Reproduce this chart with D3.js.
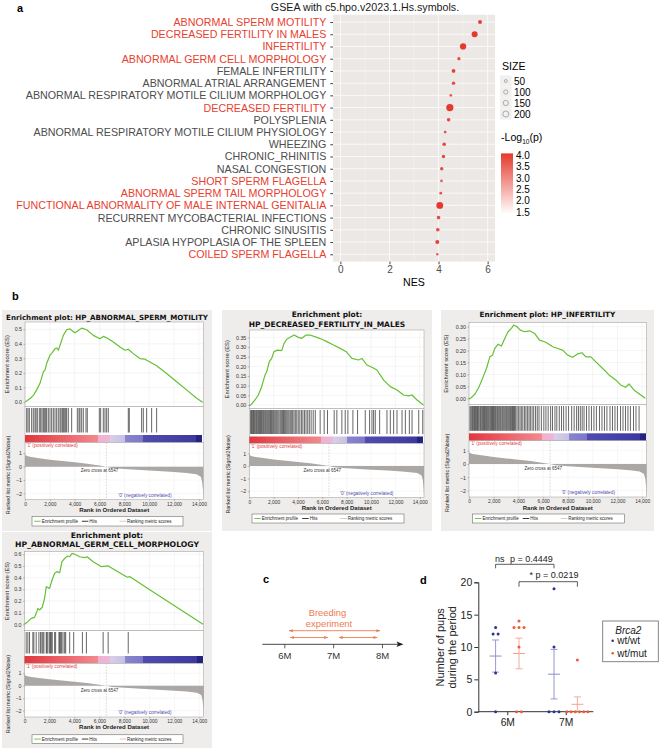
<!DOCTYPE html>
<html><head><meta charset="utf-8">
<script src="https://d3js.org/d3.v7.min.js"></script>
<style>html,body{margin:0;padding:0;background:#fff}svg{display:block}</style>
</head><body>
<svg id="fig" width="661" height="749" xmlns="http://www.w3.org/2000/svg"></svg>
<script>
// ================= DATA =================
// Panel a
const titleA = "GSEA with c5.hpo.v2023.1.Hs.symbols.";
const termNames = ["ABNORMAL SPERM MOTILITY","DECREASED FERTILITY IN MALES","INFERTILITY","ABNORMAL GERM CELL MORPHOLOGY","FEMALE INFERTILITY","ABNORMAL ATRIAL ARRANGEMENT","ABNORMAL RESPIRATORY MOTILE CILIUM MORPHOLOGY","DECREASED FERTILITY","POLYSPLENIA","ABNORMAL RESPIRATORY MOTILE CILIUM PHYSIOLOGY","WHEEZING","CHRONIC_RHINITIS","NASAL CONGESTION","SHORT SPERM FLAGELLA","ABNORMAL SPERM TAIL MORPHOLOGY","FUNCTIONAL ABNORMALITY OF MALE INTERNAL GENITALIA","RECURRENT MYCOBACTERIAL INFECTIONS","CHRONIC SINUSITIS","APLASIA HYPOPLASIA OF THE SPLEEN","COILED SPERM FLAGELLA"];
const termNES = [5.69,5.47,5.00,4.83,4.61,4.61,4.50,4.46,4.41,4.27,4.23,4.20,4.13,4.12,4.09,4.05,4.00,3.97,3.95,3.95];
const termSize = [90,200,215,57,80,65,38,290,72,44,72,64,64,38,44,257,72,72,89,32];
const termLogP = [3.9,4.0,4.0,3.8,3.9,3.8,3.6,4.0,3.8,3.7,3.8,3.8,3.8,3.6,3.7,4.0,3.8,3.8,3.9,3.6];
const termFertility = [1,1,1,1,0,0,0,1,0,0,0,0,0,1,1,1,0,0,0,1];
const nesTicks = [0,2,4,6];
const sizeLegend = [50,100,150,200];
const logpTicks = [4.0,3.5,3.0,2.5,2.0,1.5];

// Panel b (GSEA)
const N_GENES = 14350;
const zeroCross = 6547;
const rankTicks = [0,2000,4000,6000,8000,10000,12000,14000];
const metricRanks  = [0,30,300,1000,2000,3000,4000,5000,6000,6547,7000,8000,9000,10000,11000,12000,13000,13800,14150,14250,14320,14350];
const metricValues = [1.05,0.85,0.75,0.65,0.52,0.42,0.32,0.22,0.08,0,-0.1,-0.17,-0.23,-0.29,-0.34,-0.40,-0.47,-0.56,-0.75,-1.1,-1.7,-2.3];
const barStopRanks  = [0,2500,5900,5900,6840,6840,8050,8050,9520,9520,13800,13800,14280,14280,14350];
const barStopColors = ["#E0373F","#EA5A60","#F28A8E","#F0B0CF","#EDB8D6","#D8CFEB","#C8C0E3","#8985CF","#7C78C8","#4F4BAF","#3D399E","#26227F","#26227F","#FFFFFF","#FFFFFF"];

const setTitles = [["Enrichment plot: HP_ABNORMAL_SPERM_MOTILITY"],["Enrichment plot:","HP_DECREASED_FERTILITY_IN_MALES"],["Enrichment plot: HP_INFERTILITY"],["Enrichment plot:","HP_ABNORMAL_GERM_CELL_MORPHOLOGY"]];

const esSperm = [[0,0],[268,0.016],[536,0.034],[700,0.05],[939,0.084],[1207,0.129],[1475,0.208],[1610,0.22],[1743,0.265],[2011,0.322],[2200,0.34],[2414,0.367],[2550,0.372],[2682,0.356],[2950,0.424],[3084,0.458],[3352,0.497],[3620,0.503],[3800,0.49],[4023,0.476],[4291,0.492],[4559,0.508],[4962,0.497],[5498,0.458],[6035,0.435],[6303,0.451],[6571,0.442],[7107,0.412],[7644,0.378],[8046,0.356],[8314,0.363],[8716,0.333],[9253,0.299],[9655,0.295],[10058,0.276],[10594,0.249],[11399,0.197],[12203,0.140],[13008,0.084],[13812,0.027],[14300,0]];
const esMales = [[0,-0.005],[192,0.005],[467,0.026],[741,0.052],[1016,0.095],[1290,0.155],[1427,0.172],[1647,0.224],[1839,0.241],[2031,0.276],[2306,0.284],[2663,0.281],[2855,0.319],[3074,0.340],[3349,0.350],[3678,0.362],[4035,0.350],[4310,0.345],[4667,0.362],[4996,0.362],[5545,0.350],[5957,0.340],[6368,0.328],[6917,0.310],[7466,0.293],[7961,0.276],[8427,0.241],[8976,0.233],[9251,0.241],[9662,0.207],[10074,0.195],[10486,0.181],[11035,0.129],[11584,0.095],[12133,0.078],[12682,0.052],[13094,0.047],[13368,0.052],[13780,0.026],[14300,0]];
const esInfert = [[0,-0.004],[214,0.004],[482,0.018],[750,0.042],[937,0.063],[1151,0.091],[1419,0.126],[1687,0.174],[1901,0.181],[2088,0.209],[2356,0.227],[2623,0.219],[2891,0.251],[3159,0.279],[3427,0.293],[3614,0.307],[3882,0.300],[4149,0.286],[4497,0.279],[4899,0.283],[5300,0.272],[5702,0.244],[6104,0.237],[6371,0.230],[6773,0.216],[7174,0.209],[7576,0.202],[7977,0.181],[8379,0.172],[8781,0.186],[9129,0.191],[9450,0.174],[9851,0.174],[10253,0.153],[10788,0.126],[11324,0.098],[11859,0.077],[12261,0.056],[12662,0.046],[12930,0.060],[13331,0.035],[14250,0]];
const esGerm = [[0,0],[268,0.023],[536,0.051],[805,0.060],[939,0.094],[1073,0.137],[1207,0.123],[1421,0.146],[1609,0.223],[1743,0.322],[2011,0.308],[2226,0.386],[2414,0.437],[2601,0.451],[2816,0.442],[3004,0.536],[3218,0.565],[3487,0.585],[3621,0.579],[3808,0.608],[4023,0.600],[4425,0.579],[4828,0.571],[5015,0.579],[5498,0.536],[6169,0.494],[6705,0.500],[7241,0.465],[8233,0.403],[8448,0.408],[10058,0.294],[14300,0]];

const hitsSperm = [134,241,349,536,670,805,885,992,1153,1261,1368,1475,1556,1663,1743,1877,2011,2146,2280,2414,2548,2682,2816,2897,3004,3084,3165,3272,3352,3487,3755,4211,4345,4425,4559,4694,4908,5015,5981,6088,6303,6437,6571,6705,8314,8395,9387,9521,9789,10192,10594];
const hitsMales = [110,180,270,340,410,480,560,620,700,770,850,910,990,1060,1140,1210,1290,1360,1440,1520,1600,1680,1750,1830,1920,2000,2090,2180,2260,2350,2440,2540,2630,2720,2810,2900,2990,3080,3170,3260,3360,3450,3560,3670,3780,3900,4020,4150,4280,4400,4530,4660,4800,4930,5080,5250,5420,5819,6149,6423,6972,7192,7604,7878,8098,8510,8894,9525,9882,10074,10211,10349,10706,11309,11584,11858,12133,12545,12819,13148,13368,13917,14247];
const hitsInfert = [80,160,240,300,380,450,520,600,680,740,810,900,960,1040,1110,1180,1260,1320,1400,1470,1540,1610,1690,1760,1830,1900,1980,2050,2130,2200,2290,2360,2440,2520,2590,2680,2750,2830,2910,2990,3060,3140,3220,3300,3370,3450,3520,3600,3680,3770,3880,3990,4120,4230,4350,4480,4600,4720,4850,4960,5100,5230,5380,5520,5660,5850,6050,6220,6400,6600,6750,6950,7100,7300,7480,7650,7850,8050,8300,8500,8700,8850,9000,9150,9300,9500,9700,9900,10100,10300,10550,10750,10950,11150,11400,11600,11800,12000,12250,12450,12650,12850,13050,13300,13500,13750];
const hitsGerm = [134,268,402,670,750,938,1152,1286,1394,1474,1554,1742,1796,1876,2010,2090,2144,2224,2412,2492,2760,2814,2894,2975,3082,3216,3296,3618,3940,4636,4958,6298,6700,8308];

const esTicksSperm = [0,0.1,0.2,0.3,0.4,0.5];
const esTicksMales = [0,0.05,0.1,0.15,0.2,0.25,0.3,0.35];
const esTicksInfert = [0,0.05,0.1,0.15,0.2,0.25,0.3];
const esTicksGerm = [0,0.1,0.2,0.3,0.4,0.5,0.6];
const metricTicks = [1,0,-1,-2];

// Panel c
const timeTicks = [6,7,8];
const breedingStart = [6.1,6.12,7.12];
const breedingEnd = [7.96,6.89,7.9];
const breedingRow = [0,1,1];

// Panel d
const timePoints = ["6M","7M"];
const genotypes = ["wt/wt","wt/mut"];
const pups6Mwt = [13,12,12,6,0];
const pups6Mmut = [14,13,13,13,10,0,0];
const pups7Mwt = [19,10,0,0,0];
const pups7Mmut = [8,0,0,0,0,0,0];
const pupTicks = [0,5,10,15,20];

// ================= DRAW =================
const svg = d3.select("#fig");
const defs = svg.append("defs");
const SANS = "'Liberation Sans', Arial, Helvetica, sans-serif";
const DV = "'DejaVu Sans', sans-serif";
const NAR = "'Liberation Sans Narrow','Liberation Sans', Arial, sans-serif";

function txt(g, x, y, s, o = {}) {
  const t = g.append("text").attr("x", x).attr("y", y).text(s)
    .attr("font-family", o.ff || SANS).attr("font-size", o.fs || 10).attr("fill", o.fill || "#000");
  if (o.anchor) t.attr("text-anchor", o.anchor);
  if (o.fw) t.attr("font-weight", o.fw);
  if (o.fst) t.attr("font-style", o.fst);
  if (o.rot) t.attr("transform", `rotate(${o.rot},${x},${y})`);
  return t;
}

// ---------- Panel a ----------
const A = svg.append("g");
txt(A, 17, 12, "a", {fs: 11, fw: "bold"});
txt(A, 365, 10.5, titleA, {fs: 10.7, anchor: "middle", fill: "#1a1a1a"});
const xA = d3.scaleLinear().domain([-0.3, 6.3]).range([333, 495]);
const yA = d3.scalePoint().domain(termNames).range([14.7, 261.6]).padding(0.6);
const rA = d3.scaleSqrt().domain([0, 200]).range([0, 3.0]);
const cA = d3.scaleLinear().domain([1.5, 4.0]).range(["#FFFFFF", "#E5392D"]).clamp(true);
A.append("rect").attr("x", 333).attr("y", 14.7).attr("width", 162).attr("height", 246.9).attr("fill", "#EBE8E5");
[1, 3, 5].forEach(v => A.append("line").attr("x1", xA(v)).attr("x2", xA(v)).attr("y1", 14.7).attr("y2", 261.6).attr("stroke", "#F6F4F2").attr("stroke-width", 0.5));
nesTicks.forEach(v => A.append("line").attr("x1", xA(v)).attr("x2", xA(v)).attr("y1", 14.7).attr("y2", 261.6).attr("stroke", "#FAF9F8").attr("stroke-width", 1));
termNames.forEach(n => A.append("line").attr("x1", 333).attr("x2", 495).attr("y1", yA(n)).attr("y2", yA(n)).attr("stroke", "#FAF9F8").attr("stroke-width", 1));
A.selectAll("circle.dot").data(termNames.map((n, i) => ({n, i}))).join("circle").attr("class", "dot")
  .attr("cx", d => xA(termNES[d.i])).attr("cy", d => yA(d.n))
  .attr("r", d => rA(termSize[d.i])).attr("fill", d => cA(termLogP[d.i]));
const yAxisA = A.append("g").attr("transform", "translate(333,0)").call(d3.axisLeft(yA).tickSize(2.7).tickPadding(4));
yAxisA.select(".domain").remove();
yAxisA.selectAll(".tick line").attr("stroke", "#444");
yAxisA.selectAll(".tick text").attr("font-family", SANS).attr("font-size", 10.7)
  .attr("fill", (d, i) => termFertility[termNames.indexOf(d)] ? "#E8402F" : "#4D4D4D");
const xAxisA = A.append("g").attr("transform", "translate(0,261.6)").call(d3.axisBottom(xA).tickValues(nesTicks).tickFormat(d3.format("d")).tickSize(2.7).tickPadding(2));
xAxisA.select(".domain").remove();
xAxisA.selectAll(".tick line").attr("stroke", "#444");
xAxisA.selectAll(".tick text").attr("font-family", SANS).attr("font-size", 10).attr("fill", "#4D4D4D");
txt(A, 414, 286, "NES", {fs: 10.6, anchor: "middle"});
// size legend
txt(A, 502, 70, "SIZE", {fs: 10.6});
sizeLegend.forEach((s, i) => {
  const cy = 81 + i * 11;
  A.append("rect").attr("x", 500).attr("y", cy - 5.5).attr("width", 11.5).attr("height", 11).attr("fill", "#F1F0EF");
  A.append("circle").attr("cx", 505.8).attr("cy", cy).attr("r", rA(s)).attr("fill", "none").attr("stroke", "#9A9A9A").attr("stroke-width", 0.8);
  txt(A, 514, cy + 3.6, String(s), {fs: 10});
});
// colour legend
const lt = txt(A, 501, 141, "-Log", {fs: 10.6});
lt.append("tspan").attr("font-size", 6.5).attr("dy", 2.5).text("10");
lt.append("tspan").attr("dy", -2.5).text("(p)");
const yL = d3.scaleLinear().domain([1.5, 4.0]).range([212.3, 155]);
const cg = defs.append("linearGradient").attr("id", "lpgrad").attr("x1", 0).attr("x2", 0).attr("y1", 1).attr("y2", 0);
cg.append("stop").attr("offset", 0).attr("stop-color", cA(1.42));
cg.append("stop").attr("offset", 1).attr("stop-color", cA(4.05));
A.append("rect").attr("x", 501).attr("y", yL(4.07)).attr("width", 12).attr("height", yL(1.42) - yL(4.07)).attr("fill", "url(#lpgrad)");
logpTicks.forEach(v => txt(A, 516, yL(v) + 3.6, v.toFixed(1), {fs: 10}));

// ---------- Panel b ----------
const B = svg.append("g");
txt(B, 12, 300, "b", {fs: 11, fw: "bold"});

const gseaLayouts = [
  {bg: [2, 310, 212, 531], tY: [320], tFs: 7.1, x0: 25, x1: 203.3, esTop: 322, esBot: 406.5, esDom: [-0.03, 0.55], esFmt: ".1f", esTicks: esTicksSperm,
   barTop: 435, barBot: 442.5, rankBot: 499.5, rDom: [-2.45, 1.8], axY: 505, rlY: 511.5, lg: [32, 183, 516.5, 526]},
  {bg: [222, 310, 432, 531], tY: [316.5, 326.5], tFs: 7.5, x0: 249.3, x1: 424, esTop: 330, esBot: 408.5, esDom: [-0.018, 0.388], esFmt: ".2f", esTicks: esTicksMales,
   barTop: 436.5, barBot: 443.3, rankBot: 497.5, rDom: [-2.5, 1.8], axY: 502.5, rlY: 509.5, lg: [252, 404, 514, 523]},
  {bg: [441, 310, 654, 531], tY: [317], tFs: 7.3, x0: 469, x1: 646.5, esTop: 322.7, esBot: 404.5, esDom: [-0.026, 0.317], esFmt: ".2f", esTicks: esTicksInfert,
   barTop: 433.3, barBot: 440.7, rankBot: 497, rDom: [-2.48, 1.75], axY: 502.5, rlY: 509.5, lg: [472.6, 624.5, 514, 523]},
  {bg: [2, 532, 212, 748], tY: [538, 547.3], tFs: 7.7, x0: 24.5, x1: 203.7, esTop: 551.7, esBot: 630.5, esDom: [-0.053, 0.622], esFmt: ".1f", esTicks: esTicksGerm,
   barTop: 656, barBot: 663.3, rankBot: 717, rDom: [-2.51, 1.8], axY: 722.5, rlY: 729, lg: [32, 183, 734.8, 743.3]}
];
const gseaEs = [esSperm, esMales, esInfert, esGerm];
const gseaHits = [hitsSperm, hitsMales, hitsInfert, hitsGerm];

gseaLayouts.forEach((c, k) => {
  const g = B.append("g");
  g.append("rect").attr("x", c.bg[0]).attr("y", c.bg[1]).attr("width", c.bg[2] - c.bg[0]).attr("height", c.bg[3] - c.bg[1]).attr("fill", "#EFEDEB");
  const cx = (c.bg[0] + c.bg[2]) / 2;
  setTitles[k].forEach((t, i) => txt(g, cx, c.tY[i], t, {ff: DV, fs: c.tFs, fw: "bold", anchor: "middle", fill: "#111"}));
  const x = d3.scaleLinear().domain([0, N_GENES]).range([c.x0, c.x1]);
  const yE = d3.scaleLinear().domain(c.esDom).range([c.esBot, c.esTop]);
  const rankTop = c.barBot;
  const yR = d3.scaleLinear().domain(c.rDom).range([c.rankBot, rankTop]);
  // ES panel
  g.append("rect").attr("x", c.x0).attr("y", c.esTop).attr("width", c.x1 - c.x0).attr("height", c.esBot - c.esTop).attr("fill", "#fff");
  rankTicks.forEach(t => g.append("line").attr("x1", x(t)).attr("x2", x(t)).attr("y1", c.esTop).attr("y2", c.esBot).attr("stroke", "#E6E6E6").attr("stroke-width", 0.4));
  c.esTicks.forEach(t => g.append("line").attr("x1", c.x0).attr("x2", c.x1).attr("y1", yE(t)).attr("y2", yE(t)).attr("stroke", "#E6E6E6").attr("stroke-width", 0.4));
  g.append("path").datum(gseaEs[k]).attr("d", d3.line().x(d => x(d[0])).y(d => yE(d[1])))
    .attr("fill", "none").attr("stroke", "#63C132").attr("stroke-width", 1.2).attr("stroke-linejoin", "round");
  g.append("rect").attr("x", c.x0).attr("y", c.esTop).attr("width", c.x1 - c.x0).attr("height", c.esBot - c.esTop).attr("fill", "none").attr("stroke", "#9A9A9A").attr("stroke-width", 0.5);
  const ay = g.append("g").attr("transform", `translate(${c.x0},0)`).call(d3.axisLeft(yE).tickValues(c.esTicks).tickFormat(d3.format(c.esFmt)).tickSize(1.5).tickPadding(1.5));
  ay.select(".domain").remove();
  ay.selectAll(".tick line").attr("stroke", "#666").attr("stroke-width", 0.4);
  ay.selectAll(".tick text").attr("font-family", NAR).attr("font-size", 5.3).attr("fill", "#333");
  txt(g, c.bg[0] + 7, (c.esTop + c.esBot) / 2, "Enrichment score (ES)", {ff: NAR, fs: 5.8, anchor: "middle", rot: -90, fill: "#222"});
  // hits panel
  g.append("rect").attr("x", c.x0).attr("y", c.esBot).attr("width", c.x1 - c.x0).attr("height", c.barBot - c.esBot).attr("fill", "#fff").attr("stroke", "#9A9A9A").attr("stroke-width", 0.5);
  g.selectAll("line.hit").data(gseaHits[k]).join("line").attr("class", "hit")
    .attr("x1", d => x(d)).attr("x2", d => x(d)).attr("y1", c.esBot + 1.5).attr("y2", c.barTop - 2.5)
    .attr("stroke", "#1E1E1E").attr("stroke-width", 0.75).attr("stroke-opacity", 0.9);
  const gid = "bar" + k;
  const lg = defs.append("linearGradient").attr("id", gid).attr("gradientUnits", "userSpaceOnUse")
    .attr("x1", x(0)).attr("x2", x(N_GENES)).attr("y1", 0).attr("y2", 0);
  barStopRanks.forEach((r, i) => lg.append("stop").attr("offset", r / N_GENES).attr("stop-color", barStopColors[i]));
  g.append("rect").attr("x", c.x0).attr("y", c.barTop).attr("width", c.x1 - c.x0).attr("height", c.barBot - c.barTop).attr("fill", `url(#${gid})`);
  // ranked metric panel
  g.append("rect").attr("x", c.x0).attr("y", rankTop).attr("width", c.x1 - c.x0).attr("height", c.rankBot - rankTop).attr("fill", "#fff");
  rankTicks.forEach(t => g.append("line").attr("x1", x(t)).attr("x2", x(t)).attr("y1", rankTop).attr("y2", c.rankBot).attr("stroke", "#EBEBEB").attr("stroke-width", 0.4));
  metricTicks.forEach(t => g.append("line").attr("x1", c.x0).attr("x2", c.x1).attr("y1", yR(t)).attr("y2", yR(t)).attr("stroke", "#EBEBEB").attr("stroke-width", 0.4));
  g.append("path").datum(metricRanks.map((r, i) => [r, metricValues[i]]))
    .attr("d", d3.area().x(d => x(d[0])).y0(yR(0)).y1(d => yR(d[1]))).attr("fill", "#ABA7A5");
  g.append("line").attr("x1", x(zeroCross)).attr("x2", x(zeroCross)).attr("y1", rankTop).attr("y2", c.rankBot)
    .attr("stroke", "#AAA").attr("stroke-width", 0.5).attr("stroke-dasharray", "1.5,1.5");
  g.append("rect").attr("x", c.x0).attr("y", rankTop).attr("width", c.x1 - c.x0).attr("height", c.rankBot - rankTop).attr("fill", "none").attr("stroke", "#9A9A9A").attr("stroke-width", 0.5);
  txt(g, c.x0 + 1.5, rankTop + 4.6, "'1' (positively correlated)", {ff: NAR, fs: 4.8, fill: "#E23B45"});
  txt(g, x(9650), c.rankBot - 2.8, "'0' (negatively correlated)", {ff: NAR, fs: 4.8, anchor: "middle", fill: "#4E4AAE"});
  txt(g, x(6000), yR(0) + 5.8, "Zero cross at " + zeroCross, {ff: NAR, fs: 4.5, anchor: "middle", fill: "#333"});
  const ar = g.append("g").attr("transform", `translate(${c.x0},0)`).call(d3.axisLeft(yR).tickValues(metricTicks).tickFormat(d3.format("d")).tickSize(1.5).tickPadding(1.5));
  ar.select(".domain").remove();
  ar.selectAll(".tick line").attr("stroke", "#666").attr("stroke-width", 0.4);
  ar.selectAll(".tick text").attr("font-family", NAR).attr("font-size", 5.3).attr("fill", "#333");
  txt(g, c.bg[0] + 8, (rankTop + c.rankBot) / 2 + 4, "Ranked list metric (Signal2Noise)", {ff: NAR, fs: 5.3, anchor: "middle", rot: -90, fill: "#222"});
  const ax = g.append("g").attr("transform", `translate(0,${c.rankBot})`).call(d3.axisBottom(x).tickValues(rankTicks).tickFormat(d3.format(",")).tickSize(1.5).tickPadding(1.5));
  ax.select(".domain").remove();
  ax.selectAll(".tick line").attr("stroke", "#666").attr("stroke-width", 0.4);
  ax.selectAll(".tick text").attr("font-family", NAR).attr("font-size", 4.9).attr("fill", "#333");
  txt(g, (c.x0 + c.x1) / 2, c.rlY, "Rank in Ordered Dataset", {ff: NAR, fs: 6, anchor: "middle", fw: "bold", fill: "#222"});
  // legend
  const [l0, l1, lt0, lb0] = c.lg;
  const w = l1 - l0, ly = (lt0 + lb0) / 2;
  g.append("rect").attr("x", l0).attr("y", lt0).attr("width", w).attr("height", lb0 - lt0).attr("fill", "#fff").attr("stroke", "#555").attr("stroke-width", 0.5);
  const items = [["Enrichment profile", "#63C132", 0.015], ["Hits", "#222", 0.33], ["Ranking metric scores", "#C8C8C8", 0.58]];
  items.forEach(([lab, col, f]) => {
    const lx = l0 + f * w;
    g.append("line").attr("x1", lx).attr("x2", lx + 6.5).attr("y1", ly).attr("y2", ly).attr("stroke", col).attr("stroke-width", 0.9);
    txt(g, lx + 7.5, ly + 1.6, lab, {ff: NAR, fs: 4.5, fill: "#222"});
  });
});

// ---------- Panel c ----------
const C = svg.append("g");
txt(C, 263, 583, "c", {fs: 11, fw: "bold"});
const xC = d3.scaleLinear().domain([6, 8]).range([284.3, 382]);
C.append("line").attr("x1", 262.3).attr("x2", 399).attr("y1", 644.3).attr("y2", 644.3).attr("stroke", "#333").attr("stroke-width", 0.9);
C.append("path").attr("d", "M403.5,644.3 L396.5,641.6 L398,644.3 L396.5,647 Z").attr("fill", "#222");
const axC = C.append("g").attr("transform", "translate(0,644.3)").call(d3.axisBottom(xC).tickValues(timeTicks).tickFormat(d => d + "M").tickSize(4).tickPadding(4));
axC.select(".domain").remove();
axC.selectAll(".tick line").attr("stroke", "#333").attr("stroke-width", 0.8);
axC.selectAll(".tick text").attr("font-family", SANS).attr("font-size", 9.5).attr("fill", "#333");
const orange = "#EE7A50";
defs.append("marker").attr("id", "arrO").attr("viewBox", "0 0 10 10").attr("refX", 9).attr("refY", 5)
  .attr("markerWidth", 4.5).attr("markerHeight", 4.5).attr("orient", "auto-start-reverse")
  .append("path").attr("d", "M0,1.2 L10,5 L0,8.8 Z").attr("fill", orange);
const rowY = [630.7, 637.5];
breedingStart.forEach((s, i) => {
  C.append("line").attr("x1", xC(s)).attr("x2", xC(breedingEnd[i])).attr("y1", rowY[breedingRow[i]]).attr("y2", rowY[breedingRow[i]])
    .attr("stroke", orange).attr("stroke-width", 0.9).attr("marker-start", "url(#arrO)").attr("marker-end", "url(#arrO)");
});
txt(C, 327.5, 615.8, "Breeding", {fs: 9.4, anchor: "middle", fill: orange});
txt(C, 329, 626.8, "experiment", {fs: 9.4, anchor: "middle", fill: orange});

// ---------- Panel d ----------
const D = svg.append("g");
txt(D, 420, 584, "d", {fs: 11, fw: "bold"});
const yD = d3.scaleLinear().domain([0, 20]).range([711.7, 582.3]);
const xD = d3.scalePoint().domain(timePoints).range([507.3, 565.7]);
const gD = d3.scaleBand().domain(genotypes).range([-23.4, 23.4]);
const axY = D.append("g").attr("transform", "translate(478.3,0)").call(d3.axisLeft(yD).tickValues(pupTicks).tickSize(4).tickPadding(2));
axY.select(".domain").attr("stroke", "#333");
axY.selectAll(".tick line").attr("stroke", "#333");
axY.selectAll(".tick text").attr("font-family", SANS).attr("font-size", 10.5).attr("fill", "#222");
D.append("line").attr("x1", 478.3).attr("x2", 593.3).attr("y1", 711.7).attr("y2", 711.7).attr("stroke", "#333");
const axX = D.append("g").attr("transform", "translate(0,711.7)").call(d3.axisBottom(xD).tickSize(3.5).tickPadding(3));
axX.select(".domain").remove();
axX.selectAll(".tick line").attr("stroke", "#333");
axX.selectAll(".tick text").attr("font-family", SANS).attr("font-size", 10.3).attr("fill", "#222");
txt(D, 444, 647.3, "Number of pups", {fs: 11, anchor: "middle", rot: -90, fill: "#222"});
txt(D, 455.7, 647.3, "during the period", {fs: 11, anchor: "middle", rot: -90, fill: "#222"});
const genoColor = {"wt/wt": "#2F3192", "wt/mut": "#F05A3A"};
const genoBar = {"wt/wt": "#8C8DC9", "wt/mut": "#F4A28E"};
const pupGroups = [
  {t: "6M", g: "wt/wt", v: pups6Mwt}, {t: "6M", g: "wt/mut", v: pups6Mmut},
  {t: "7M", g: "wt/wt", v: pups7Mwt}, {t: "7M", g: "wt/mut", v: pups7Mmut}
];
pupGroups.forEach(gr => {
  const cx = xD(gr.t) + gD(gr.g) + gD.bandwidth() / 2;
  const m = d3.mean(gr.v), sem = d3.deviation(gr.v) / Math.sqrt(gr.v.length);
  const bc = genoBar[gr.g];
  D.append("line").attr("x1", cx).attr("x2", cx).attr("y1", yD(Math.max(0, m - sem))).attr("y2", yD(m + sem)).attr("stroke", bc).attr("stroke-width", 0.9);
  D.append("line").attr("x1", cx - 3.5).attr("x2", cx + 3.5).attr("y1", yD(m + sem)).attr("y2", yD(m + sem)).attr("stroke", bc).attr("stroke-width", 0.9);
  if (m - sem > 0) D.append("line").attr("x1", cx - 3.5).attr("x2", cx + 3.5).attr("y1", yD(m - sem)).attr("y2", yD(m - sem)).attr("stroke", bc).attr("stroke-width", 0.9);
  D.append("line").attr("x1", cx - 6).attr("x2", cx + 6).attr("y1", yD(m)).attr("y2", yD(m)).attr("stroke", bc).attr("stroke-width", 1);
  const grouped = d3.group(gr.v, v => v);
  grouped.forEach((arr, v) => {
    const sp = arr.length > 4 ? 4.2 : 5;
    arr.forEach((_, j) => {
      D.append("circle").attr("cx", cx + (j - (arr.length - 1) / 2) * sp).attr("cy", yD(v)).attr("r", 1.5).attr("fill", genoColor[gr.g]);
    });
  });
});
// significance brackets
const bx = (t, g) => xD(t) + gD(g) + gD.bandwidth() / 2;
const br1 = 564.3, br2 = 581.7;
D.append("path").attr("d", `M${bx("6M","wt/wt")},${br1 + 4} V${br1} H${bx("7M","wt/wt")} V${br1 + 4}`).attr("fill", "none").attr("stroke", "#333").attr("stroke-width", 0.8);
D.append("path").attr("d", `M${bx("6M","wt/mut")},${br2 + 5} V${br2} H${bx("7M","wt/mut")} V${br2 + 5}`).attr("fill", "none").attr("stroke", "#333").attr("stroke-width", 0.8);
txt(D, 495, 561.5, "ns", {fs: 9, fill: "#222"});
txt(D, 510, 561.5, "p = 0.4449", {fs: 9, fill: "#222"});
txt(D, 554, 577.5, "* p = 0.0219", {fs: 9, anchor: "middle", fill: "#222"});
// legend
D.append("rect").attr("x", 602.7).attr("y", 621).attr("width", 55.6).attr("height", 40.7).attr("fill", "#fff").attr("stroke", "#777").attr("stroke-width", 0.9);
txt(D, 628.3, 633.6, "Brca2", {fs: 10, fst: "italic", anchor: "middle", fill: "#222"});
genotypes.forEach((gt, i) => {
  const yy = 640.7 + i * 12.6;
  D.append("circle").attr("cx", 612.7).attr("cy", yy).attr("r", 1.3).attr("fill", genoColor[gt]);
  txt(D, 617.3, yy + 3.5, gt, {fs: 10, fill: "#222"});
});
</script>
</body></html>
